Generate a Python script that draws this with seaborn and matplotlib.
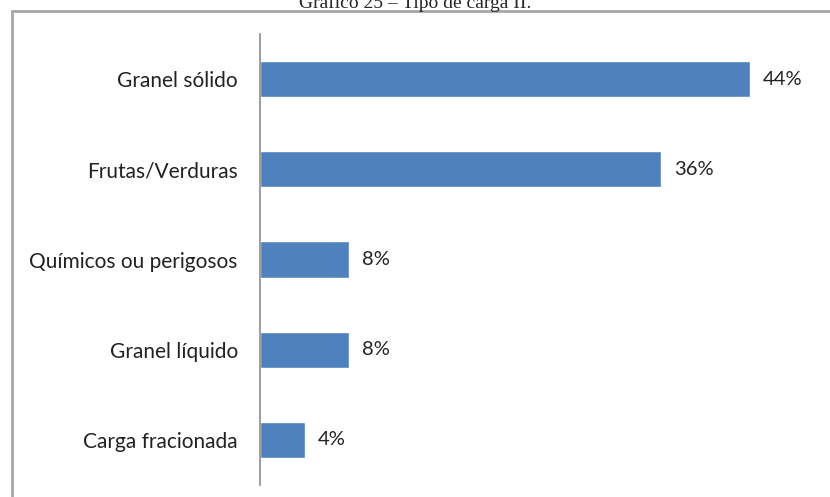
import matplotlib
matplotlib.use("Agg")
import matplotlib.pyplot as plt
import seaborn as sns
import pandas as pd
from matplotlib.lines import Line2D

# dados do gráfico
categorias = ["Granel sólido", "Frutas/Verduras", "Químicos ou perigosos",
              "Granel líquido", "Carga fracionada"]
percentuais = [44, 36, 8, 8, 4]
rotulos = ["44%", "36%", "8%", "8%", "4%"]

df = pd.DataFrame({"categoria": categorias, "pct": percentuais})

sns.set_style("white")
plt.rcParams["font.family"] = ["Lato", "DejaVu Sans"]

fig = plt.figure(figsize=(8.3, 4.97), dpi=100)
ax = fig.add_axes([260 / 830, 1 - 485 / 497, 557 / 830, 451 / 497])

sns.barplot(data=df, x="pct", y="categoria", orient="h", color="#4F81BD",
            width=0.4, saturation=1, ax=ax)

ax.set_xlim(0, 50)
ax.set_ylim(4.5, -0.5)
ax.set_xlabel("")
ax.set_ylabel("")
ax.set_xticks([])
ax.tick_params(axis="y", length=0, pad=16, labelsize=15, labelcolor="#222222")
for s in ["top", "right", "bottom"]:
    ax.spines[s].set_visible(False)
ax.spines["left"].set_color("#8c8c8c")
ax.spines["left"].set_linewidth(1.2)

for i, (v, r) in enumerate(zip(percentuais, rotulos)):
    ax.text(v + 1.15, i, r, va="center", ha="left", fontsize=14.5, color="#222222")

# moldura (topo e esquerda)
fig.add_artist(Line2D([12 / 830, 1], [1 - 11 / 497, 1 - 11 / 497],
                      color="#a8a8a8", lw=2, transform=fig.transFigure))
fig.add_artist(Line2D([12 / 830, 12 / 830], [0, 1 - 11 / 497],
                      color="#a8a8a8", lw=2, transform=fig.transFigure))

# título cortado no topo (como na imagem original)
fig.text(0.5, 1 - 8 / 497, "Gráfico 25 – Tipo de carga II.", ha="center",
         va="baseline", fontsize=14, family=["Liberation Serif", "DejaVu Serif"])

fig.savefig("out.png", dpi=100)
